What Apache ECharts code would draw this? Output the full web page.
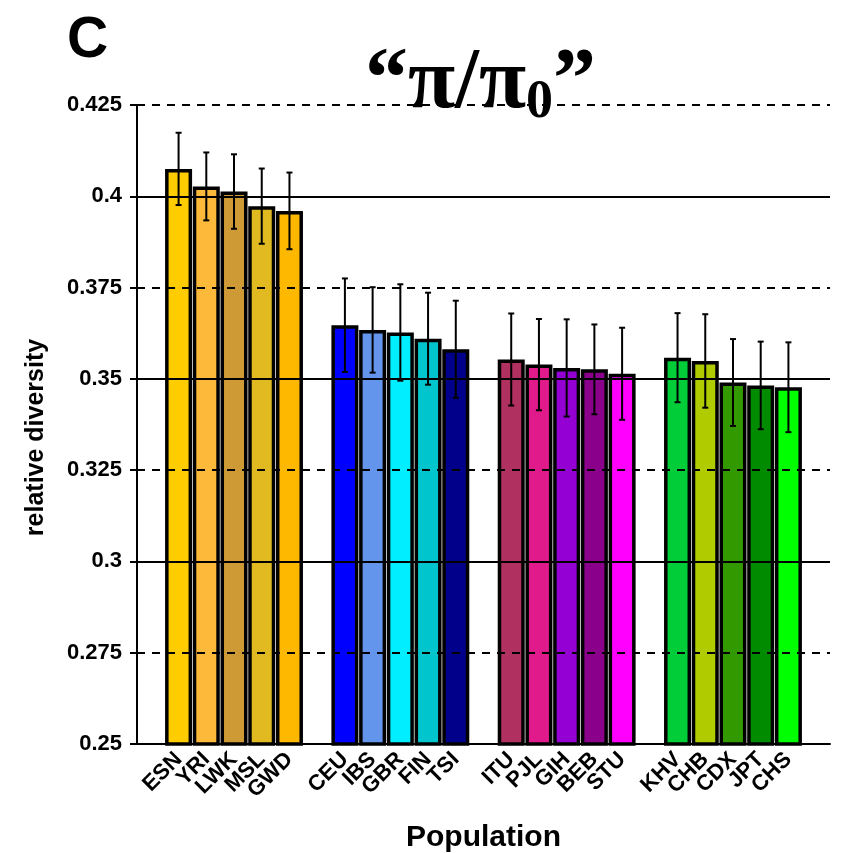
<!DOCTYPE html>
<html>
<head>
<meta charset="utf-8">
<script src="https://cdn.jsdelivr.net/npm/echarts@6/dist/echarts.min.js"></script>
<style>
html,body{margin:0;padding:0;background:#fff;}
#chart{width:847px;height:853px;}
</style>
</head>
<body>
<div id="chart"></div>
<script>
// ---- data ----
const categories = ['', 'ESN','YRI','LWK','MSL','GWD', '', 'CEU','IBS','GBR','FIN','TSI', '', 'ITU','PJL','GIH','BEB','STU', '', 'KHV','CHB','CDX','JPT','CHS', ''];
const diversity = [null, 0.4075,0.4027,0.4013,0.3973,0.3960, null, 0.3647,0.3634,0.3627,0.3610,0.3581, null, 0.3553,0.3539,0.3530,0.3526,0.3514, null, 0.3558,0.3549,0.3490,0.3482,0.3477, null];
const errors = [null, 0.0099,0.0093,0.0102,0.0103,0.0105, null, 0.0128,0.0117,0.0132,0.0126,0.0133, null, 0.0126,0.0125,0.0133,0.0123,0.0126, null, 0.0122,0.0128,0.0119,0.0120,0.0123, null];
const barColors = [null, '#FFCC00','#FDB93A','#CD9A35','#E0BA20','#FFB800', null, '#0000FF','#6495ED','#00EEFF','#00C5CD','#00008B', null, '#B03060','#E01A8A','#9400D3','#8B008B','#FF00FF', null, '#00CD38','#B0CC00','#339900','#008B00','#00FF00', null];
const yTicks = [0.25, 0.275, 0.3, 0.325, 0.35, 0.375, 0.4, 0.425];
const solidGrid = [0.3, 0.35, 0.4];
const dashedGrid = [0.275, 0.325, 0.375, 0.425];

const chart = echarts.init(document.getElementById('chart'));

const barData = diversity.map((v, i) => v === null ? '-' : {
  value: v,
  itemStyle: { color: barColors[i], borderColor: '#000', borderWidth: 3.5 }
});
const errData = diversity.map((v, i) => v === null ? null : [i, v, errors[i]]).filter(d => d);

const gridLines = solidGrid.map(v => ({ yAxis: v, lineStyle: { type: 'solid', color: '#000', width: 2 } }))
  .concat(dashedGrid.map(v => ({ yAxis: v, lineStyle: { type: [8, 7], color: '#000', width: 2 } })));

const option = {
  backgroundColor: '#fff',
  animation: false,
  title: [
    { text: 'C', left: 62, top: 8, textStyle: { fontSize: 57, fontWeight: 'bold', fontFamily: 'Liberation Sans', color: '#000' } },
    {
      text: '{m|\u201C\u03C0/\u03C0}{s|0}{m|\u201D}',
      left: 360, top: 35,
      textStyle: {
        rich: {
          m: { fontSize: 86, fontFamily: 'Liberation Serif', color: '#000', lineHeight: 90, verticalAlign: 'middle' },
          s: { fontSize: 54, fontFamily: 'Liberation Serif', color: '#000', lineHeight: 54, verticalAlign: 'bottom' }
        }
      }
    }
  ],
  grid: { left: 137, right: 17, top: 105, bottom: 109, containLabel: false, outerBoundsMode: 'none' },
  xAxis: {
    type: 'category',
    data: categories,
    boundaryGap: true,
    name: 'Population',
    nameLocation: 'middle',
    nameGap: 79,
    nameTextStyle: { fontSize: 30, fontWeight: 'bold', fontFamily: 'Liberation Sans', color: '#000' },
    axisLine: { lineStyle: { color: '#000', width: 2 } },
    axisTick: { alignWithLabel: true, length: 7, lineStyle: { color: '#000', width: 2 }, interval: (i, v) => v !== '' },
    axisLabel: { rotate: 45, interval: 0, fontSize: 22, fontWeight: 'bold', fontFamily: 'Liberation Sans', color: '#000', margin: 12 },
    splitLine: { show: false }
  },
  yAxis: {
    type: 'value',
    min: yTicks[0],
    max: yTicks[yTicks.length - 1],
    interval: 0.025,
    name: 'relative diversity',
    nameLocation: 'middle',
    nameGap: 88,
    nameTextStyle: { fontSize: 25, fontWeight: 'bold', fontFamily: 'Liberation Sans', color: '#000', padding: [0, 26, 0, 0] },
    axisLine: { show: true, lineStyle: { color: '#000', width: 2 } },
    axisTick: { show: true, length: 7, lineStyle: { color: '#000', width: 2 } },
    axisLabel: { fontSize: 22, fontWeight: 'bold', fontFamily: 'Liberation Sans', color: '#000', margin: 15,
      formatter: v => String(parseFloat(v.toFixed(3))) },
    splitLine: { show: false }
  },
  series: [
    {
      type: 'line',
      data: categories.map(() => '-'),
      z: 1,
      silent: true,
      markLine: { silent: true, precision: 4, symbol: 'none', label: { show: false }, data: gridLines, animation: false }
    },
    {
      type: 'bar',
      data: barData,
      barWidth: 27,
      z: 2
    },
    {
      type: 'custom',
      z: 3,
      data: errData,
      encode: { x: 0, y: 1 },
      renderItem: (params, api) => {
        const x = api.value(0), y = api.value(1), e = api.value(2);
        const hi = api.coord([x, y + e]);
        const lo = api.coord([x, y - e]);
        const cw = 3;
        const st = { stroke: '#000', lineWidth: 2 };
        return {
          type: 'group',
          children: [
            { type: 'line', shape: { x1: hi[0], y1: hi[1], x2: lo[0], y2: lo[1] }, style: st },
            { type: 'line', shape: { x1: hi[0] - cw, y1: hi[1], x2: hi[0] + cw, y2: hi[1] }, style: st },
            { type: 'line', shape: { x1: lo[0] - cw, y1: lo[1], x2: lo[0] + cw, y2: lo[1] }, style: st }
          ]
        };
      }
    }
  ]
};
chart.setOption(option);
</script>
</body>
</html>
